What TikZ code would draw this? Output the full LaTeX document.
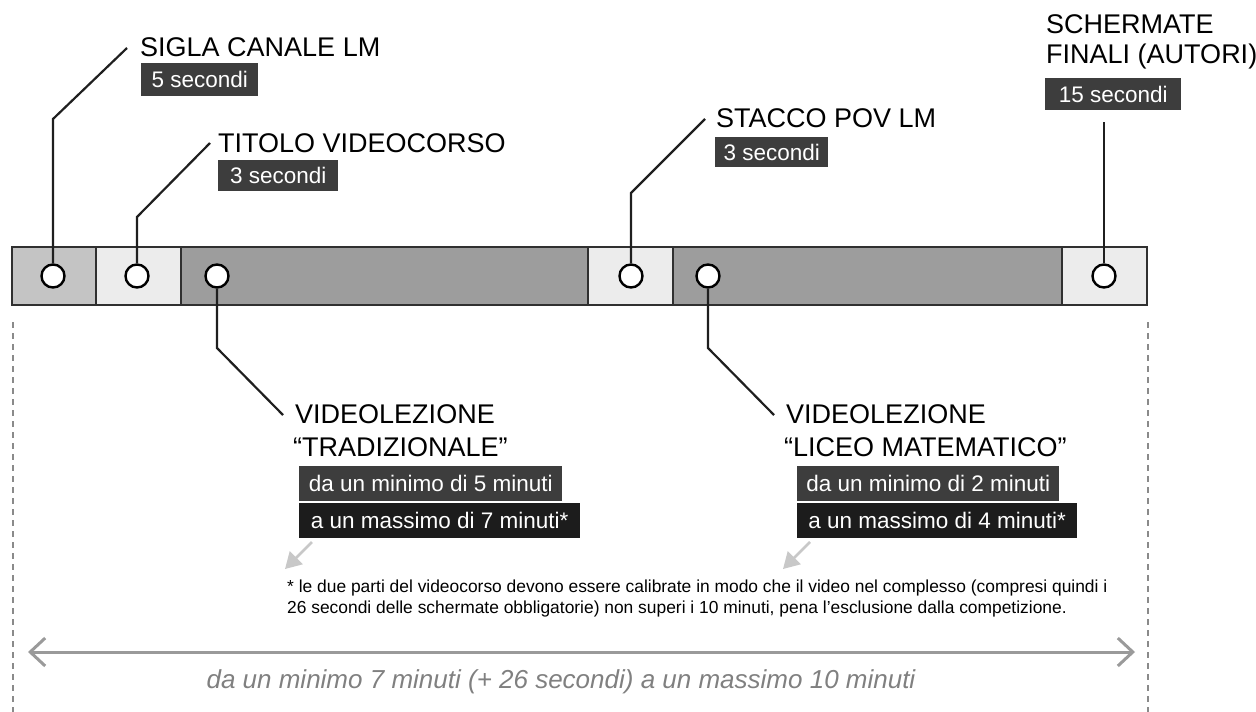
\documentclass[tikz,border=0pt]{standalone}
\usepackage{fontspec}
\setmainfont{Liberation Sans}
\usetikzlibrary{arrows.meta}
\definecolor{segA}{HTML}{C4C4C4}
\definecolor{segL}{HTML}{ECECEC}
\definecolor{segD}{HTML}{9D9D9D}
\definecolor{barline}{HTML}{303030}
\definecolor{boxA}{HTML}{3D3D3D}
\definecolor{boxB}{HTML}{1C1C1C}
\definecolor{hintgray}{HTML}{C8C8C8}
\definecolor{spangray}{HTML}{9A9A9A}
\definecolor{dashgray}{HTML}{8A8A8A}
\definecolor{itgray}{HTML}{808080}
\begin{document}
\begin{tikzpicture}[x=1pt,y=-1pt,
  heading/.style={font=\fontsize{27}{30}\selectfont, inner sep=0pt, anchor=base west, text=black},
  tagbox/.style={fill=boxA, text=white, font=\fontsize{22.5}{26}\selectfont, inner sep=0pt, anchor=north west},
  tagboxdark/.style={tagbox, fill=boxB},
  segment/.style={draw=barline, line width=2pt},
  marker/.style={circle, draw=black, fill=white, line width=2.4pt, minimum size=23pt, inner sep=0pt},
  leader/.style={draw=black!88, line width=2.2pt},
  hint/.style={draw=hintgray, line width=2.5pt, -{Triangle[length=16pt,width=18pt]}},
  bound/.style={draw=dashgray, line width=1.2pt, dash pattern=on 6pt off 5pt},
  span/.style={draw=spangray, line width=3pt, {Straight Barb[length=15pt,width=28pt]}-{Straight Barb[length=15pt,width=28pt]}},
  note/.style={font=\fontsize{17.4}{20}\selectfont, inner sep=0pt, anchor=base west},
  spanlabel/.style={font=\itshape\fontsize{26}{30}\selectfont, text=itgray, inner sep=0pt, anchor=base}
]
\useasboundingbox (0,0) rectangle (1256,712);

% timeline bar
\draw[segment, fill=segA] (12,247) rectangle (96,305);
\draw[segment, fill=segL] (96,247) rectangle (181,305);
\draw[segment, fill=segD] (181,247) rectangle (588,305);
\draw[segment, fill=segL] (588,247) rectangle (673,305);
\draw[segment, fill=segD] (673,247) rectangle (1062,305);
\draw[segment, fill=segL] (1062,247) rectangle (1147,305);

% markers
\node[marker] (m1) at (53,276) {};
\node[marker] (m2) at (137,276) {};
\node[marker] (m3) at (217,276) {};
\node[marker] (m4) at (631,276) {};
\node[marker] (m5) at (708,276) {};
\node[marker] (m6) at (1104,276) {};

% headings
\node[heading] (h1) at (140,56) {SIGLA CANALE LM};
\node[heading] (h2) at (218,152) {TITOLO VIDEOCORSO};
\node[heading] (h3) at (716,127) {STACCO POV LM};
\node[heading] (h4a) at (1046,33) {SCHERMATE};
\node[heading] (h4b) at (1046,63) {FINALI (AUTORI)};
\node[heading] (h5a) at (295,423) {VIDEOLEZIONE};
\node[heading] (h5b) at (293,456) {“TRADIZIONALE”};
\node[heading] (h6a) at (786,423) {VIDEOLEZIONE};
\node[heading] (h6b) at (784,456) {“LICEO MATEMATICO”};

% duration boxes
\node[tagbox, minimum width=117pt, minimum height=33pt] (b1) at (141,63) {5 secondi};
\node[tagbox, minimum width=120pt, minimum height=31pt] (b2) at (218,160) {3 secondi};
\node[tagbox, minimum width=113pt, minimum height=30pt] (b3) at (715,137) {3 secondi};
\node[tagbox, minimum width=136pt, minimum height=32pt] (b4) at (1045,78) {15 secondi};
\node[tagbox, minimum width=263pt, minimum height=35pt] (b5a) at (299,466) {da un minimo di 5 minuti};
\node[tagboxdark, minimum width=281pt, minimum height=35pt] (b5b) at (299,503) {a un massimo di 7 minuti*};
\node[tagbox, minimum width=262pt, minimum height=35pt] (b6a) at (797,466) {da un minimo di 2 minuti};
\node[tagboxdark, minimum width=280pt, minimum height=35pt] (b6b) at (797,503) {a un massimo di 4 minuti*};

% leader coordinates
\coordinate (k1) at (53,119);  \coordinate (e1) at (127,48);
\coordinate (k2) at (137,217); \coordinate (e2) at (210,143);
\coordinate (k3) at (217,348); \coordinate (e3) at (283,415);
\coordinate (k4) at (631,193); \coordinate (e4) at (705,119);
\coordinate (k5) at (708,348); \coordinate (e5) at (774,415);
\coordinate (e6) at (1104,122);

\draw[leader] (m1.north) -- (k1) -- (e1);
\draw[leader] (m2.north) -- (k2) -- (e2);
\draw[leader] (m3.south) -- (k3) -- (e3);
\draw[leader] (m4.north) -- (k4) -- (e4);
\draw[leader] (m5.south) -- (k5) -- (e5);
\draw[leader] (m6.north) -- (e6);

% hint arrows toward footnote
\coordinate (a1s) at (312,542); \coordinate (a1e) at (285,569);
\coordinate (a2s) at (810,542); \coordinate (a2e) at (783,569);
\draw[hint] (a1s) -- (a1e);
\draw[hint] (a2s) -- (a2e);

% footnote
\node[note] (n1) at (287,592) {* le due parti del videocorso devono essere calibrate in modo che il video nel complesso (compresi quindi i};
\node[note] (n2) at (287,613) {26 secondi delle schermate obbligatorie) non superi i 10 minuti, pena l’esclusione dalla competizione.};

% boundaries
\coordinate (d1t) at (13,322); \coordinate (d1b) at (13,712);
\coordinate (d2t) at (1148,322); \coordinate (d2b) at (1148,712);
\draw[bound] (d1t) -- (d1b);
\draw[bound] (d2t) -- (d2b);

% total span
\coordinate (sL) at (28,652); \coordinate (sR) at (1135,652);
\draw[span] (sL) -- (sR);
\node[spanlabel] (sl) at (561,688) {da un minimo 7 minuti (+ 26 secondi) a un massimo 10 minuti};
\end{tikzpicture}
\end{document}
